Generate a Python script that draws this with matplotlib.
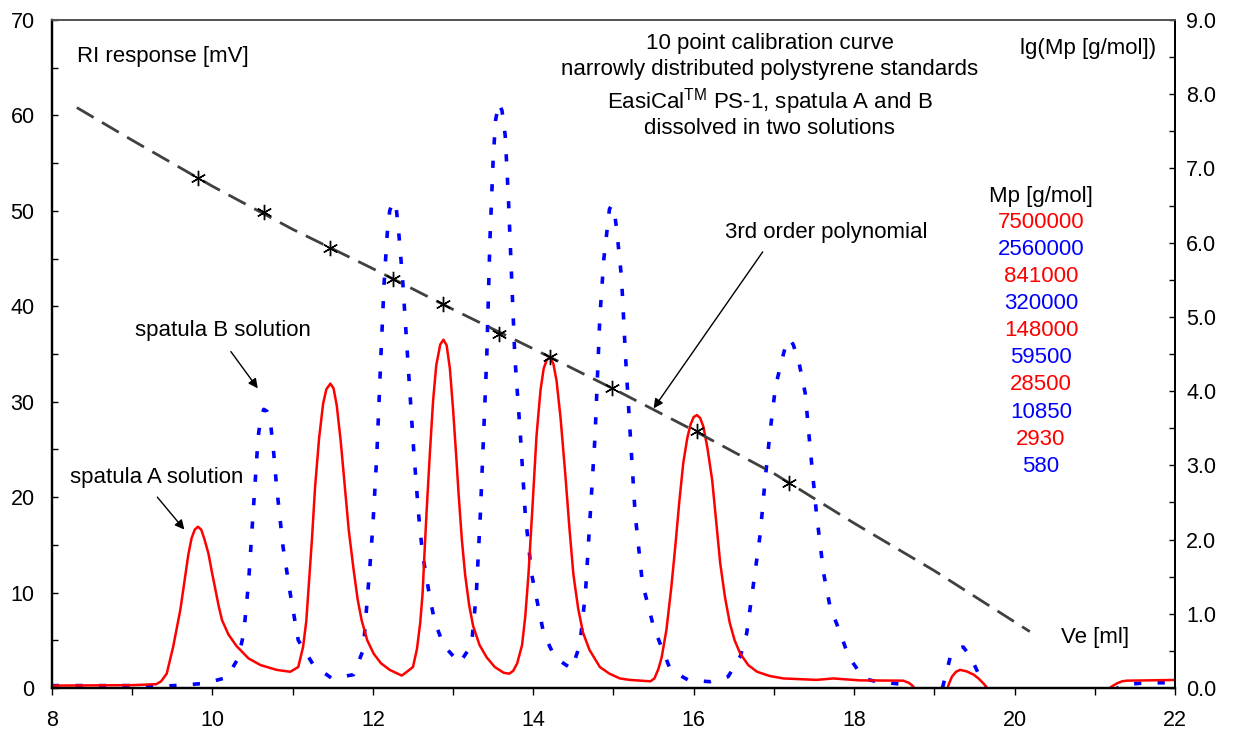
import numpy as np
import matplotlib
matplotlib.use("Agg")
from matplotlib import pyplot as plt
from matplotlib.ticker import MultipleLocator, FormatStrFormatter

plt.rcParams['font.family'] = ['Liberation Sans', 'DejaVu Sans']

# spatula A solution (red, solid) - RI response [mV] vs Ve [ml]
red_ve = [8.0, 8.5, 9.0, 9.3, 9.36, 9.43, 9.51, 9.6, 9.66, 9.70, 9.74, 9.78, 9.82, 9.86,
          9.90, 9.95, 9.99, 10.03, 10.08, 10.12, 10.2, 10.3, 10.45, 10.6, 10.8, 10.97,
          11.07, 11.13, 11.17, 11.2, 11.24, 11.28, 11.33, 11.38, 11.42, 11.47, 11.51,
          11.55, 11.6, 11.65, 11.7, 11.76, 11.81, 11.86, 11.93, 12.01, 12.1, 12.21, 12.36,
          12.44, 12.5, 12.55, 12.59, 12.62, 12.64, 12.67, 12.71, 12.75, 12.79, 12.84,
          12.88, 12.92, 12.96, 13.0, 13.04, 13.07, 13.11, 13.15, 13.2, 13.25, 13.33,
          13.42, 13.52, 13.63, 13.7, 13.75, 13.8, 13.86, 13.9, 13.94, 13.99, 14.04,
          14.09, 14.13, 14.17, 14.21, 14.25, 14.29, 14.34, 14.4, 14.45, 14.5, 14.56,
          14.62, 14.7, 14.83, 14.95, 15.08, 15.2, 15.37, 15.46, 15.51, 15.56, 15.6,
          15.66, 15.72, 15.77, 15.82, 15.87, 15.92, 15.96, 16.0, 16.04, 16.08, 16.12,
          16.17, 16.23, 16.28, 16.33, 16.39, 16.45, 16.51, 16.58, 16.68, 16.79, 16.95,
          17.12, 17.53, 17.74, 18.07, 18.61, 18.68, 18.72, 18.8, 18.9, 19.05, 19.15,
          19.18, 19.22, 19.27, 19.32, 19.4, 19.49, 19.55, 19.61, 19.7, 19.8, 21.0, 21.13,
          21.2, 21.28, 21.34, 21.4, 22.0]
red_mv = [0.25, 0.28, 0.3, 0.4, 0.7, 1.5, 4.3, 8.2, 11.7, 14.0, 15.7, 16.6, 16.9, 16.6,
          15.6, 14.1, 12.3, 10.6, 8.5, 7.1, 5.6, 4.4, 3.1, 2.4, 1.9, 1.7,
          2.2, 4.3, 7.0, 10.6, 15.5, 21.1, 26.2, 29.8, 31.3, 31.9, 31.4,
          29.6, 25.8, 21.1, 16.5, 12.4, 9.3, 7.1, 5.0, 3.6, 2.6, 1.9, 1.3,
          1.8, 2.2, 4.1, 6.8, 9.9, 13.5, 18.5, 24.5, 30.0, 33.8, 36.0,
          36.5, 35.9, 33.5, 29.2, 24.2, 20.2, 15.5, 11.9, 8.7, 6.5, 4.5,
          3.2, 2.2, 1.6, 1.5, 1.8, 2.6, 4.5, 7.5, 11.9, 19.0, 26.4,
          31.2, 33.5, 34.4, 34.6, 34.0, 32.2, 28.3, 22.3, 16.8, 11.9, 8.3,
          5.8, 4.0, 2.2, 1.5, 1.0, 0.85, 0.75, 0.7, 1.0, 2.0, 3.2,
          6.1, 10.5, 14.8, 19.5, 23.6, 26.2, 27.6, 28.4, 28.6, 28.3, 27.4,
          25.2, 21.8, 17.5, 13.1, 9.5, 6.8, 5.0, 3.6, 2.4, 1.7, 1.25,
          1.0, 0.85, 1.0, 0.8, 0.77, 0.55, 0.3, -0.5, -3.0, -3.0, -0.4,
          0.4, 1.2, 1.7, 1.9, 1.75, 1.4, 1.0, 0.5, -0.4, -3.0, -3.0, -0.4,
          0.1, 0.5, 0.7, 0.77, 0.84]

# spatula B solution (blue, dotted)
blue_ve = [8.0, 8.5, 9.0, 9.39, 9.64, 9.91, 10.18, 10.32, 10.39, 10.45, 10.51, 10.57, 10.6,
           10.64, 10.68, 10.72, 10.76, 10.8, 10.88, 10.97, 11.07, 11.26, 11.49, 11.76, 11.88,
           11.96, 12.0, 12.05, 12.1, 12.14, 12.18, 12.21, 12.25, 12.29, 12.32, 12.37, 12.41,
           12.45, 12.51, 12.57, 12.62, 12.71, 12.77, 12.88, 13.08, 13.23, 13.29, 13.34,
           13.38, 13.42, 13.46, 13.5, 13.53, 13.57, 13.61, 13.65, 13.69, 13.73, 13.77,
           13.84, 13.9, 13.98, 14.13, 14.27, 14.48, 14.58, 14.65, 14.71, 14.77, 14.83,
           14.88, 14.92, 14.95, 14.98, 15.01, 15.04, 15.1, 15.15, 15.21, 15.27, 15.36,
           15.5, 15.71, 15.93, 16.2, 16.43, 16.58, 16.66, 16.74, 16.83, 16.89, 16.95,
           17.02, 17.1, 17.15, 17.19, 17.24, 17.31, 17.39, 17.45, 17.53, 17.62, 17.7,
           17.83, 17.93, 18.12, 18.28, 18.59, 18.7, 18.8, 19.0, 19.11, 19.2, 19.28, 19.36,
           19.45, 19.55, 19.61, 19.7, 19.8, 21.1, 21.25, 21.32, 21.57, 21.84, 22.0]
blue_mv = [0.25, 0.25, 0.25, 0.2, 0.3, 0.5, 1.1, 3.1, 5.7, 11.0, 18.7, 26.3, 28.2,
           29.2, 29.0, 28.1, 25.0, 21.1, 14.8, 9.9, 5.0, 2.4, 1.0, 1.4, 4.0,
           12.4, 17.0, 24.5, 34.7, 42.4, 47.7, 50.0, 51.0, 50.4, 48.0, 42.9, 37.7,
           32.5, 24.8, 18.2, 14.0, 9.5, 7.0, 4.5, 2.6, 4.5, 9.9, 18.2,
           26.4, 34.7, 47.1, 55.4, 59.5, 61.3, 60.5, 57.9, 51.3, 43.0, 34.7,
           26.4, 18.2, 11.9, 5.7, 3.2, 2.0, 4.5, 9.9, 18.2, 26.4, 38.9,
           45.0, 48.0, 50.2, 50.6, 50.0, 48.0, 43.0, 34.7, 26.4, 18.2, 11.0,
           6.4, 1.9, 0.84, 0.66, 1.2, 3.3, 5.7, 10.6, 16.2, 21.8, 26.7,
           31.6, 34.4, 36.0, 36.6, 36.0, 34.2, 30.9, 25.3, 18.3, 12.0, 8.5,
           5.7, 3.3, 1.0, 0.66, 0.4, -0.5, -3.0, -3.0, 0.3, 3.3, 4.1, 4.3,
           3.3, 1.5, 0.5, -1.0, -3.0, -3.0, -0.3, 0.3, 0.5, 0.55, 0.55]

# calibration points: peak Ve [ml] and Mp [g/mol]
cal_ve = [9.82, 10.64, 11.47, 12.25, 12.88, 13.57, 14.21, 14.98, 16.04, 17.19]
cal_mp = [7500000, 2560000, 841000, 320000, 148000, 59500, 28500, 10850, 2930, 580]
cal_colors = ['red', 'blue'] * 5

# 3rd order polynomial curve (lg Mp)
fit_ve = [8.31, 9.0, 10.0, 11.0, 12.0, 13.0, 14.0, 15.0, 16.0, 17.0, 18.0, 19.0, 20.19]
fit_lg = [7.82, 7.38, 6.76, 6.18, 5.65, 5.10, 4.57, 4.03, 3.47, 2.89, 2.22, 1.58, 0.76]

fig = plt.figure(figsize=(12.36, 7.33), dpi=100)
ax = fig.add_axes([52 / 1236, 45 / 733, 1123 / 1236, 668 / 733])
ax2 = ax.twinx()

ax.plot(red_ve, red_mv, color='#ff0000', lw=1.8, zorder=3)
ax.plot(blue_ve, blue_mv, color='#0000ff', lw=2.6, dashes=(2, 4.5), zorder=2)

ax2.plot(fit_ve, fit_lg, color='#404040', lw=2.0, dashes=(7, 3.5))
ax2.plot(cal_ve, np.log10(cal_mp), ls='none', marker=(6, 2, 0), ms=11, mew=1.0,
         color='black')

ax.set_xlim(8, 22)
ax.set_ylim(0, 70)
ax2.set_ylim(0, 9)

ax.xaxis.set_major_locator(MultipleLocator(2))
ax.xaxis.set_minor_locator(MultipleLocator(1))
ax.yaxis.set_major_locator(MultipleLocator(10))
ax.yaxis.set_minor_locator(MultipleLocator(5))
ax2.yaxis.set_major_locator(MultipleLocator(1))
ax2.yaxis.set_minor_locator(MultipleLocator(0.5))
ax2.yaxis.set_major_formatter(FormatStrFormatter('%.1f'))

ax.tick_params(axis='y', which='both', direction='in', length=4.3, width=1.0,
               labelsize=15.5, pad=12.5)
ax.tick_params(axis='x', which='both', direction='out', length=4.8, width=1.0,
               labelsize=15.5, pad=11)
ax2.tick_params(axis='y', which='both', direction='in', length=4.3, width=1.0,
                labelsize=15.5, pad=8)

for a in (ax, ax2):
    a.spines['top'].set_color('#555555')
    a.spines['top'].set_linewidth(1.3)
    a.spines['left'].set_linewidth(1.6)
    a.spines['bottom'].set_linewidth(1.6)
    a.spines['right'].set_linewidth(1.3)

fs = 16
ax.text(8.31, 66.2, 'RI response [mV]', fontsize=fs, ha='left', va='center')
ax.text(16.95, 67.57, '10 point calibration curve', fontsize=fs, ha='center', va='center')
ax.text(16.95, 64.78, 'narrowly distributed polystyrene standards', fontsize=fs,
        ha='center', va='center')
ax.text(16.95, 61.46, r'EasiCal$^{\mathregular{TM}}$ PS-1, spatula A and B', fontsize=fs,
        ha='center', va='center')
ax.text(16.95, 58.67, 'dissolved in two solutions', fontsize=fs, ha='center', va='center')
ax.text(20.92, 67.0, 'lg(Mp [g/mol])', fontsize=fs, ha='center', va='center')
ax.text(20.33, 51.5, 'Mp [g/mol]', fontsize=fs, ha='center', va='center')
for i, (mp, c) in enumerate(zip(cal_mp, cal_colors)):
    ax.text(20.33, 48.8 - i * 2.84, str(mp), fontsize=fs, color=c, ha='center', va='center')
ax.text(21.0, 5.3, 'Ve [ml]', fontsize=fs, ha='center', va='center')

ax.text(17.65, 47.7, '3rd order polynomial', fontsize=fs, ha='center', va='center')
ax.text(10.13, 37.5, 'spatula B solution', fontsize=fs, ha='center', va='center')
ax.text(9.30, 22.1, 'spatula A solution', fontsize=fs, ha='center', va='center')

arrow = dict(arrowstyle='-|>', color='black', lw=1.0, mutation_scale=14, shrinkA=0, shrinkB=0)
ax.annotate('', xy=(15.50, 29.3), xytext=(16.86, 45.7), arrowprops=arrow)
ax.annotate('', xy=(10.565, 31.4), xytext=(10.23, 35.25), arrowprops=arrow)
ax.annotate('', xy=(9.65, 16.6), xytext=(9.313, 20.0), arrowprops=arrow)

fig.savefig('out.png', dpi=100)
